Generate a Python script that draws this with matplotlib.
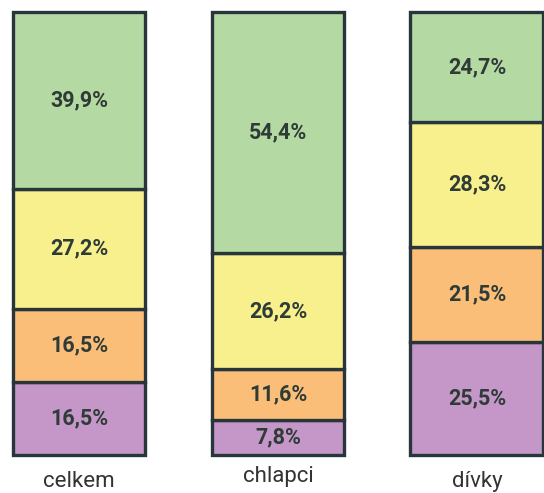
import matplotlib
matplotlib.use("Agg")
import matplotlib.pyplot as plt
import numpy as np

plt.rcParams['font.family'] = ['Roboto', 'DejaVu Sans']

groups = ["celkem", "chlapci", "dívky"]
# segments from bottom to top
purple = [16.5, 7.8, 25.5]
orange = [16.5, 11.6, 21.5]
yellow = [27.2, 26.2, 28.3]
green = [39.9, 54.4, 24.7]

series = [purple, orange, yellow, green]
colors = ["#c497c8", "#fbbe78", "#f8f08d", "#b4d9a3"]
edge = "#28363b"
txt = "#2f3b37"

fig = plt.figure(figsize=(5.44, 4.93), dpi=100)
ax = fig.add_axes([0, 0, 1, 1])

x = np.arange(len(groups))
w = 0.668
bottom = np.zeros(len(groups))
for vals, c in zip(series, colors):
    bars = ax.bar(x, vals, w, bottom=bottom, color=c, edgecolor=edge,
                  linewidth=2.4, clip_on=False)
    for b in bars:
        b.set_joinstyle("miter")
    for xi, v, b0 in zip(x, vals, bottom):
        ax.text(xi, b0 + v / 2, f"{v:.1f}%".replace(".", ","), ha="center",
                va="center", fontsize=15.5, fontweight="bold", color=txt)
    bottom += np.array(vals)

label_y = [-6.1, -4.9, -6.1]
for xi, g, ly in zip(x, groups, label_y):
    ax.text(xi, ly, g, ha="center", va="center", fontsize=16, color="#333333")

ax.set_xlim(-0.397, 2.337)
ax.set_ylim(-8.59, 102.82)
ax.axis("off")

fig.savefig("out.png", dpi=100)
